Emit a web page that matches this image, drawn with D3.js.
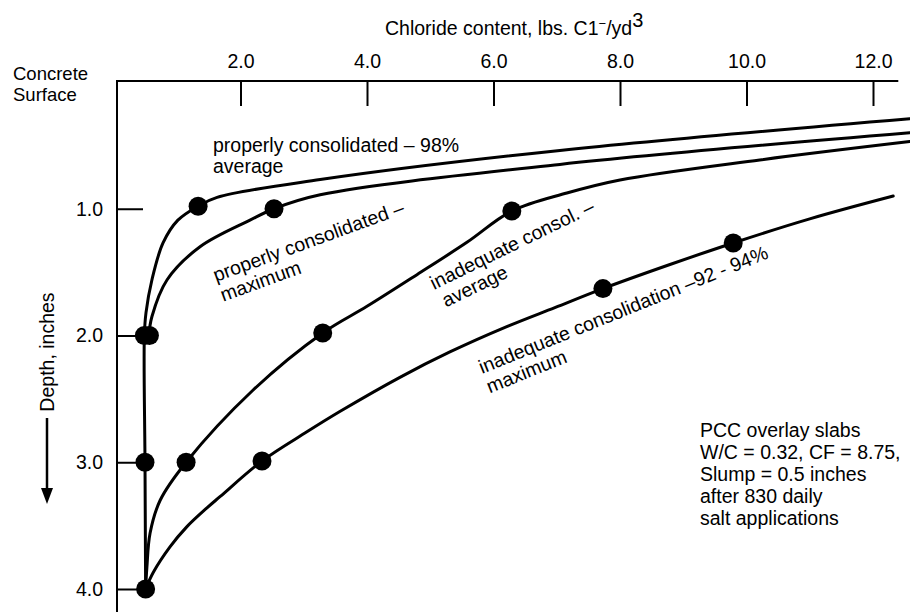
<!DOCTYPE html>
<html>
<head>
<meta charset="utf-8">
<script src="https://cdn.jsdelivr.net/npm/d3@7/dist/d3.min.js"></script>
<style>
  html, body { margin: 0; padding: 0; background: #fff; }
  svg { display: block; font-family: "Liberation Sans", Arial, sans-serif; }
  text { fill: #000; }
</style>
</head>
<body>
<svg id="chart" width="910" height="612"></svg>
<script>
// ---------- data (chloride content lbs/yd3, depth inches) ----------
const xTickValues = [2, 4, 6, 8, 10, 12];
const xTickLabels = ["2.0", "4.0", "6.0", "8.0", "10.0", "12.0"];
const yTickValues = [1, 2, 3, 4];
const yTickLabels = ["1.0", "2.0", "3.0", "4.0"];

const seriesNames = [
  "properly consolidated average",
  "properly consolidated maximum",
  "inadequate consol. average",
  "inadequate consolidation maximum"
];

// curve traces [chloride, depth]
const properAvgCurve = [[12.58,0.29],[7.05,0.54],[3.26,0.77],[1.63,0.91],[1.33,0.98],[1.01,1.09],[0.775,1.27],[0.60,1.56],[0.506,1.82],[0.48,2.0],[0.49,3.0],[0.50,4.0]];
const properMaxCurve = [[12.58,0.40],[7.05,0.65],[3.26,0.89],[2.53,1.0],[2.15,1.09],[1.36,1.30],[0.84,1.56],[0.60,1.85],[0.55,2.0]];
const inadAvgCurve   = [[12.58,0.47],[10.21,0.615],[8.0,0.773],[7.16,0.876],[6.29,1.018],[5.58,1.265],[4.79,1.52],[4.0,1.77],[3.30,1.98],[2.20,2.43],[1.14,3.0],[0.73,3.30],[0.57,3.56],[0.52,3.83],[0.50,4.0]];
const inadMaxCurve   = [[12.32,0.90],[11.0,1.08],[9.79,1.27],[8.79,1.44],[7.73,1.63],[6.97,1.78],[6.21,1.93],[5.31,2.13],[4.52,2.33],[3.57,2.60],[3.05,2.76],[2.34,2.99],[1.68,3.27],[1.47,3.36],[1.15,3.51],[0.885,3.668],[0.62,3.87],[0.50,4.0]];

// measured points [chloride, depth]
const properAvgPoints = [[1.33,0.98],[0.48,2.0],[0.49,3.0],[0.50,4.0]];
const properMaxPoints = [[2.53,1.0],[0.56,2.0]];
const inadAvgPoints   = [[6.29,1.018],[3.30,1.98],[1.14,3.0]];
const inadMaxPoints   = [[9.79,1.27],[7.73,1.63],[2.34,2.99]];

const curves = [properAvgCurve, properMaxCurve, inadAvgCurve, inadMaxCurve];
const points = [properAvgPoints, properMaxPoints, inadAvgPoints, inadMaxPoints];

const noteLines = ["PCC overlay slabs", "W/C = 0.32, CF = 8.75,", "Slump = 0.5 inches", "after 830 daily", "salt applications"];

// ---------- scales ----------
const svg = d3.select("#chart");
const x = d3.scaleLinear().domain([0, 12]).range([114, 873]);
const y = d3.scaleLinear().domain([0, 4]).range([82, 589]);
const FS = 19.5;
const FF = "Liberation Sans, Arial, sans-serif";

// top axis
const xAxis = d3.axisTop(x).tickValues(xTickValues)
  .tickFormat((d, i) => xTickLabels[i]).tickSize(-25).tickPadding(13).tickSizeOuter(0);
const gx = svg.append("g").attr("transform", `translate(0,${y(0) - 1})`).call(xAxis);
gx.select(".domain").remove();
gx.selectAll(".tick line").attr("stroke", "#000").attr("stroke-width", 2);
gx.selectAll(".tick text").attr("font-size", FS).attr("font-family", FF).attr("fill", "#000");
gx.append("line").attr("x1", 117).attr("x2", x(12.4)).attr("y1", 0).attr("y2", 0)
  .attr("stroke", "#000").attr("stroke-width", 2);

// left axis
const yAxis = d3.axisLeft(y).tickValues(yTickValues)
  .tickFormat((d, i) => yTickLabels[i]).tickSize(-26).tickPadding(14).tickSizeOuter(0);
const gy = svg.append("g").attr("transform", `translate(117,0)`).call(yAxis);
gy.select(".domain").remove();
gy.selectAll(".tick line").attr("stroke", "#000").attr("stroke-width", 2);
gy.selectAll(".tick text").attr("font-size", FS).attr("font-family", FF).attr("fill", "#000");
gy.append("line").attr("x1", 0).attr("x2", 0).attr("y1", y(0) - 2).attr("y2", 612)
  .attr("stroke", "#000").attr("stroke-width", 2);

// curves
const line = d3.line().x(d => x(d[0])).y(d => y(d[1])).curve(d3.curveCatmullRom.alpha(0.5));
svg.append("g").selectAll("path").data(curves).join("path")
  .attr("d", line).attr("fill", "none").attr("stroke", "#000").attr("stroke-width", 3)
  .attr("stroke-linejoin", "round").attr("stroke-linecap", "round");

// dots
svg.append("g").selectAll("g").data(points).join("g")
  .selectAll("circle").data(d => d).join("circle")
  .attr("cx", d => x(d[0])).attr("cy", d => y(d[1])).attr("r", 9.5).attr("fill", "#000");

// titles
const title = svg.append("text").attr("x", 385).attr("y", 35).attr("font-size", FS);
title.append("tspan").text("Chloride content, lbs. C1");
title.append("tspan").attr("dy", -7).attr("font-size", 13).text("\u2212");
title.append("tspan").attr("dy", 7).text("/yd");
title.append("tspan").attr("dy", -8).attr("font-size", 20).text("3");

svg.append("text").attr("x", 13).attr("y", 80).attr("font-size", 18.5).text("Concrete");
svg.append("text").attr("x", 13).attr("y", 101).attr("font-size", 18.5).text("Surface");

// depth label with arrow
svg.append("text").attr("transform", "translate(54,352) rotate(-90)")
  .attr("text-anchor", "middle").attr("font-size", FS).text("Depth, inches");
svg.append("line").attr("x1", 47).attr("x2", 47).attr("y1", 418).attr("y2", 492)
  .attr("stroke", "#000").attr("stroke-width", 2.5);
svg.append("path").attr("d", "M41,488 L53,488 L47,504 Z").attr("fill", "#000");

// curve annotations
function label(tx, ty, angle, l1, l2, dx2) {
  const t = svg.append("text").attr("transform", `translate(${tx},${ty}) rotate(${angle})`).attr("font-size", FS);
  t.append("tspan").attr("x", 0).attr("y", 0).text(l1);
  t.append("tspan").attr("x", dx2).attr("y", 21).text(l2);
}
label(213, 152, 0, "properly consolidated \u2013 98%", "average", 0);
label(216, 282, -20, "properly consolidated \u2013", "maximum", 0);
label(434, 290, -26, "inadequate consol. \u2013", "average", 3);
label(482, 374, -22, "inadequate consolidation \u201392  -  94%", "maximum", 0);

// note
svg.append("g").selectAll("text").data(noteLines).join("text")
  .attr("x", 700).attr("y", (d, i) => 437 + i * 22).attr("font-size", FS).text(d => d);
</script>
</body>
</html>
